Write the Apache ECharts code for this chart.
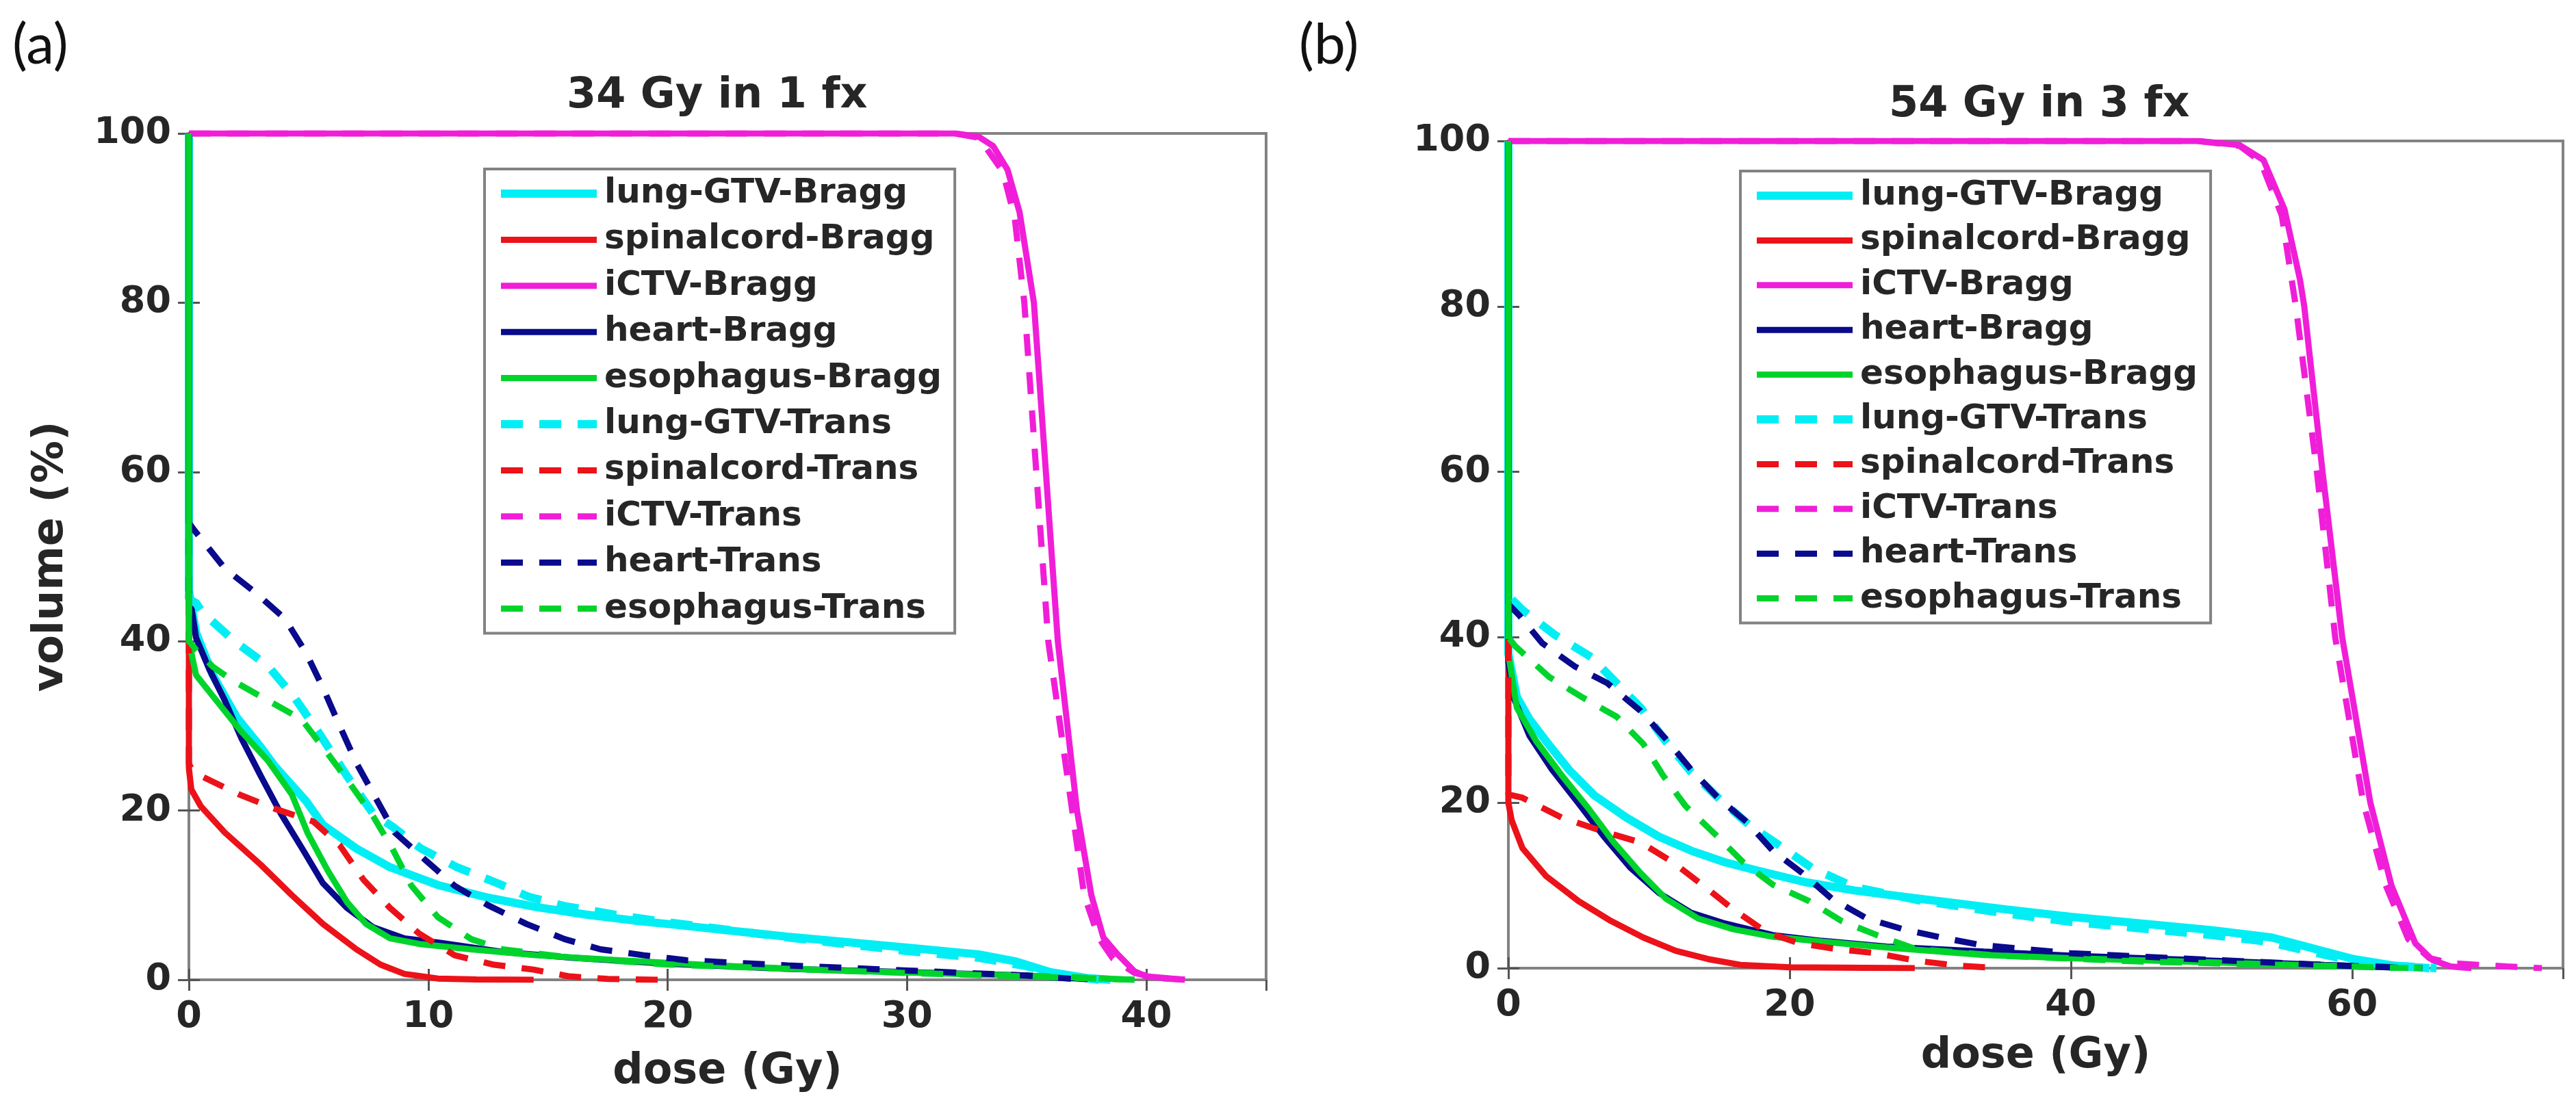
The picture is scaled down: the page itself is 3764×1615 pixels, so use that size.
<!DOCTYPE html>
<html lang="en">
<head>
    <meta charset="UTF-8">
    <title>DVH comparison</title>
    <style>
        html, body { margin: 0; padding: 0; background: #fff; }
        #dvh { width: 3764px; height: 1615px; }
    </style>
    <script src="https://cdn.jsdelivr.net/npm/echarts@6/dist/echarts.min.js"></script>
</head>
<body>
<div id="dvh"></div>
<script type="text/javascript">

    // legend names, same order in both panels
    var names = ['lung-GTV-Bragg', 'spinalcord-Bragg', 'iCTV-Bragg', 'heart-Bragg', 'esophagus-Bragg',
        'lung-GTV-Trans', 'spinalcord-Trans', 'iCTV-Trans', 'heart-Trans', 'esophagus-Trans'];
    var colors = ['#00eef4', '#ec1219', '#f01ed8', '#0a0a8c', '#00d42c'];

    // (a) 34 Gy in 1 fx : [dose Gy, volume %]
    var aLungBragg = [[0,100],[0,46],[0.3,41],[1,36],[2,31],[3,27.5],[3.6,25.2],[4.9,21.1],[5.6,18.3],[7,15.5],[8.4,13.3],[10.4,11.2],[12.5,9.7],[14.5,8.6],[16.6,7.7],[18.6,7],[20,6.6],[25,5.1],[30,3.8],[33,3],[34.5,2.2],[36,0.9],[37.5,0.2],[38.5,0]];
    var aCordBragg = [[0,100],[0,25],[0.1,22.5],[0.5,20.5],[1.5,17.4],[3,13.6],[4.3,10],[5.6,6.6],[7,3.6],[8,1.8],[9,0.7],[10.4,0.15],[12,0.05],[14.4,0]];
    var aCtvBragg = [[0,100],[32,100],[33,99.6],[33.6,98.5],[34.2,95.7],[34.7,90.7],[35.3,80],[35.8,60],[36.3,40],[37.1,20],[37.7,10],[38.2,5],[38.8,3],[39.5,1],[40,0.4],[41.6,0]];
    var aHeartBragg = [[0,100],[0,46],[0.3,40.4],[0.85,36.7],[1.5,33],[2.2,28.5],[3,24.1],[3.85,19.6],[4.8,15.2],[5.6,11.4],[6.6,8.5],[7.7,6.2],[9,4.9],[10.4,4.4],[13.1,3.3],[16,2.6],[20,1.9],[25,1.3],[30,0.9],[35,0.5],[38,0]];
    var aEsoBragg = [[0,100],[0,40],[0.3,36],[1.26,32.6],[2.2,29.3],[3.3,25.9],[4.3,21.9],[4.95,17.4],[5.8,12.9],[6.6,9.2],[7.4,6.6],[8.4,4.9],[9.7,4.2],[11.8,3.6],[14.5,2.9],[18,2.3],[22,1.7],[27,1.1],[32,0.7],[36,0.4],[39.5,0]];
    var aLungTrans = [[0,100],[0,45],[0.3,44.5],[0.57,43.4],[1.9,40],[3.3,37.1],[4.4,33.4],[5.4,29.3],[6.6,24.1],[7.7,19.6],[8.5,18.1],[9.7,15.5],[11.2,13.3],[12.9,11.4],[14.2,9.8],[15.7,8.7],[18,7.6],[20,6.8],[25,5],[30,3.4],[33,2.6],[35,1.6],[36.5,0.5],[38,0]];
    var aCordTrans = [[0,100],[0,25.5],[0.2,24.5],[2.1,21.9],[3.6,20.2],[5.2,18.7],[6.3,15.9],[7.3,11.8],[8.4,8.5],[9.6,5.5],[11.1,2.9],[12.7,1.8],[14.4,1.2],[15.9,0.4],[17.5,0.1],[19.6,0]];
    var aCtvTrans = [[0,100],[32,100],[33,99.5],[34,95.5],[34.5,90],[34.9,80],[35.4,60],[35.9,40],[36.9,20],[37.4,10],[38,5],[38.6,2.5],[39.5,0.8],[40.5,0.2],[41.7,0]];
    var aHeartTrans = [[0,100],[0,54],[0.23,53.1],[1.5,48.6],[2.8,45.7],[4,42.7],[4.9,38.6],[5.6,34.5],[6.3,30],[7,25.6],[7.8,21.5],[8.6,17.4],[9.9,14.1],[11.1,11.1],[12.5,8.8],[14.1,6.6],[15.7,4.8],[17.2,3.6],[19,2.9],[20.8,2.3],[25,1.7],[30,1.1],[35,0.5],[37.5,0]];
    var aEsoTrans = [[0,100],[0,40],[0.3,39],[1,37],[1.8,35.4],[3.3,33],[4.7,30.8],[5.7,27.1],[6.7,23.3],[7.7,19.3],[8.5,15.5],[9.3,11.1],[10.4,7.4],[11.8,4.8],[13.1,3.6],[16,2.6],[20,1.8],[25,1.3],[30,0.8],[35,0.4],[39.5,0]];

    // (b) 54 Gy in 3 fx
    var bLungBragg = [[0,100],[0,38],[0.6,32.8],[1.5,30.1],[2.7,27.4],[4.3,24],[6.1,20.9],[8.4,18.2],[10.7,15.9],[13,14.2],[15.4,12.8],[17.7,11.8],[21.1,10.4],[24.6,9.4],[29.2,8.4],[35.4,7.1],[40,6.2],[45,5.4],[50,4.6],[54.3,3.7],[57.2,2.4],[60.1,1.1],[63,0.3],[65.5,0]];
    var bCordBragg = [[0,100],[0,20],[0.23,17.9],[1,14.5],[2.7,11.1],[5,8.1],[7.3,5.7],[9.6,3.7],[11.9,2.1],[14.2,1.1],[16.5,0.4],[20,0.1],[28.9,0]];
    var bCtvBragg = [[0,100],[49,100],[52,99.5],[53.7,97.7],[55.2,91.7],[56.3,83.2],[56.6,80],[57.9,60],[59.3,40],[61.3,20],[62.8,10],[64.5,3],[65.7,1],[67,0.2],[68.5,0]];
    var bHeartBragg = [[0,100],[0,37],[0.35,32.8],[1.5,28.1],[3.1,24],[5,19.9],[6.8,15.9],[8.7,12.1],[10.7,9.1],[13,6.7],[15.4,5.4],[18.8,4],[22.3,3.3],[26.9,2.6],[33.8,2],[40,1.5],[50,0.9],[58,0.4],[65,0]];
    var bEsoBragg = [[0,100],[0,38],[0.6,31.5],[2,27.4],[3.8,23.3],[5.7,19.3],[7.5,15.2],[9.4,11.5],[11.2,8.4],[13.5,6],[16,4.7],[18.8,3.8],[22.3,3.2],[26.9,2.5],[33.8,1.6],[40,1.2],[50,0.7],[58,0.3],[65,0]];
    var bLungTrans = [[0,100],[0,45],[1,43.3],[3.3,40.3],[5.9,37.6],[7.5,34.8],[9.4,31.5],[11.2,27.4],[13,23.7],[15.1,20.3],[17.2,17.2],[19.3,14.8],[21.6,12.1],[24.6,9.8],[29.2,8.2],[35,6.7],[40,5.6],[45,4.8],[50,4],[54,3.2],[57,2],[60,0.9],[63,0.3],[66,0]];
    var bCordTrans = [[0,100],[0,21],[1,20.6],[3.8,18.2],[6.8,16.5],[9.4,15.2],[11.7,12.8],[14,9.8],[16,7.1],[18.4,4.3],[20.7,3],[23.4,2.3],[26.2,1.8],[29,0.9],[32,0.3],[35,0]];
    var bCtvTrans = [[0,100],[49,100],[52,99.4],[53.5,97.5],[55,91],[56,80],[57.5,60],[58.8,40],[60.8,20],[62.4,10],[64,3.5],[65.5,1.2],[67,0.6],[69,0.4],[71,0.2],[73.5,0]];
    var bHeartTrans = [[0,100],[0,44],[0.8,42.6],[2.4,39.3],[4.7,36.5],[7,34.5],[9.4,31.1],[11.2,27.7],[13,24],[14.9,20.6],[17,17.6],[18.8,14.2],[20.9,11.5],[23,8.4],[25.5,6],[28.1,4.7],[30.8,3.7],[33.6,2.8],[40,1.8],[50,1],[58,0.4],[64,0]];
    var bEsoTrans = [[0,100],[0,40],[0.5,38.9],[2.9,35.2],[5.2,32.8],[7.7,30.4],[9.6,27.1],[11,23.3],[12.6,19.6],[14.7,16.2],[16.7,12.8],[18.8,10.1],[21.4,8.1],[23.7,5.7],[26.2,4],[29,2.3],[35,1.5],[45,0.8],[55,0.4],[64,0]];

    var panelA = [aLungBragg, aCordBragg, aCtvBragg, aHeartBragg, aEsoBragg, aLungTrans, aCordTrans, aCtvTrans, aHeartTrans, aEsoTrans];
    var panelB = [bLungBragg, bCordBragg, bCtvBragg, bHeartBragg, bEsoBragg, bLungTrans, bCordTrans, bCtvTrans, bHeartTrans, bEsoTrans];

    var FONT = 'DejaVu Sans';
    var TXT = '#262626';
    var BOX = '#828282';

    var chart = echarts.init(document.getElementById('dvh'), null, { renderer: 'canvas' });

    // lung-GTV curves are drawn thicker than the rest
    function lineWidth(i) { return i % 5 === 0 ? 12 : 9; }

    function makeSeries(data, i, axisIdx) {
        return {
            name: names[i],
            type: 'line',
            xAxisIndex: axisIdx * 2,
            yAxisIndex: axisIdx * 2,
            data: data,
            symbol: 'none',
            showSymbol: false,
            smooth: false,
            animation: false,
            lineStyle: {
                color: colors[i % 5],
                width: lineWidth(i),
                type: i < 5 ? 'solid' : [32, 24]
            },
            itemStyle: { color: colors[i % 5] }
        };
    }

    function xAxes(grid, max, interval, nameGap) {
        var tick = { show: true, inside: true, length: 16, lineStyle: { color: '#555', width: 3 } };
        return [{
            type: 'value', gridIndex: grid, min: 0, max: max, interval: interval,
            name: 'dose (Gy)', nameLocation: 'middle', nameGap: nameGap,
            nameTextStyle: { fontFamily: FONT, fontWeight: 'bold', fontSize: 62, color: TXT },
            axisLine: { show: false }, splitLine: { show: false }, axisTick: tick,
            axisLabel: { fontFamily: FONT, fontWeight: 'bold', fontSize: 54, color: TXT, margin: 28, showMaxLabel: false }
        }, {
            type: 'value', gridIndex: grid, min: 0, max: max, interval: interval, position: 'top',
            axisLine: { show: false }, splitLine: { show: false }, axisTick: tick,
            axisLabel: { show: false }
        }];
    }

    function yAxes(grid, withName) {
        var tick = { show: true, inside: true, length: 16, lineStyle: { color: '#555', width: 3 } };
        return [{
            type: 'value', gridIndex: grid, min: 0, max: 100, interval: 20,
            name: withName ? 'volume (%)' : '', nameLocation: 'middle', nameGap: 170,
            nameTextStyle: { fontFamily: FONT, fontWeight: 'bold', fontSize: 62, color: TXT },
            axisLine: { show: false }, splitLine: { show: false }, axisTick: tick,
            axisLabel: { fontFamily: FONT, fontWeight: 'bold', fontSize: 54, color: TXT, margin: 26 }
        }, {
            type: 'value', gridIndex: grid, min: 0, max: 100, interval: 20, position: 'right',
            axisLine: { show: false }, splitLine: { show: false }, axisTick: tick,
            axisLabel: { show: false }
        }];
    }

    function legend(left, top, gap) {
        return {
            orient: 'vertical', left: left, top: top,
            padding: [7, 19, 7, 18], itemGap: gap,
            itemWidth: 140, itemHeight: 20,
            backgroundColor: '#fff', borderColor: BOX, borderWidth: 4, borderRadius: 0,
            selectedMode: false,
            itemStyle: { opacity: 0, borderWidth: 0 },
            textStyle: { fontFamily: FONT, fontWeight: 'bold', fontSize: 50, lineHeight: 58, color: TXT, padding: [0, 0, 0, 6] },
            data: names.map(function (n, i) {
                return { name: n, itemStyle: { opacity: 0, borderWidth: 0 }, lineStyle: { width: lineWidth(i) } };
            })
        };
    }

    var series = [];
    panelA.forEach(function (d, i) { series.push(makeSeries(d, i, 0)); });
    panelB.forEach(function (d, i) { series.push(makeSeries(d, i, 1)); });

    var titleStyle = { fontFamily: FONT, fontWeight: 'bold', fontSize: 62, color: TXT };
    var tagStyle = { fontFamily: 'Lato', fontWeight: 'normal', fontSize: 82, color: '#111' };

    var option = {
        backgroundColor: '#fff',
        animation: false,
        title: [
            { text: '34 Gy in 1 fx', left: 828, top: 110, padding: 0, textStyle: titleStyle },
            { text: '54 Gy in 3 fx', left: 2760, top: 123, padding: 0, textStyle: titleStyle },
            { text: '(a)', left: 18, top: 26, padding: 0, textStyle: tagStyle },
            { text: '(b)', left: 1898, top: 26, padding: 0, textStyle: tagStyle }
        ],
        legend: [legend(708, 247, 9.4), legend(2543, 250, 7.4)],
        grid: [
            { left: 276, top: 195, width: 1574, height: 1237, show: true, borderColor: BOX, borderWidth: 4, backgroundColor: '#fff' },
            { left: 2204, top: 206, width: 1541, height: 1209, show: true, borderColor: BOX, borderWidth: 4, backgroundColor: '#fff' }
        ],
        xAxis: xAxes(0, 45, 10, 104).concat(xAxes(1, 75, 20, 98)),
        yAxis: yAxes(0, true).concat(yAxes(1, false)),
        series: series
    };

    chart.setOption(option);

</script>
</body>
</html>
